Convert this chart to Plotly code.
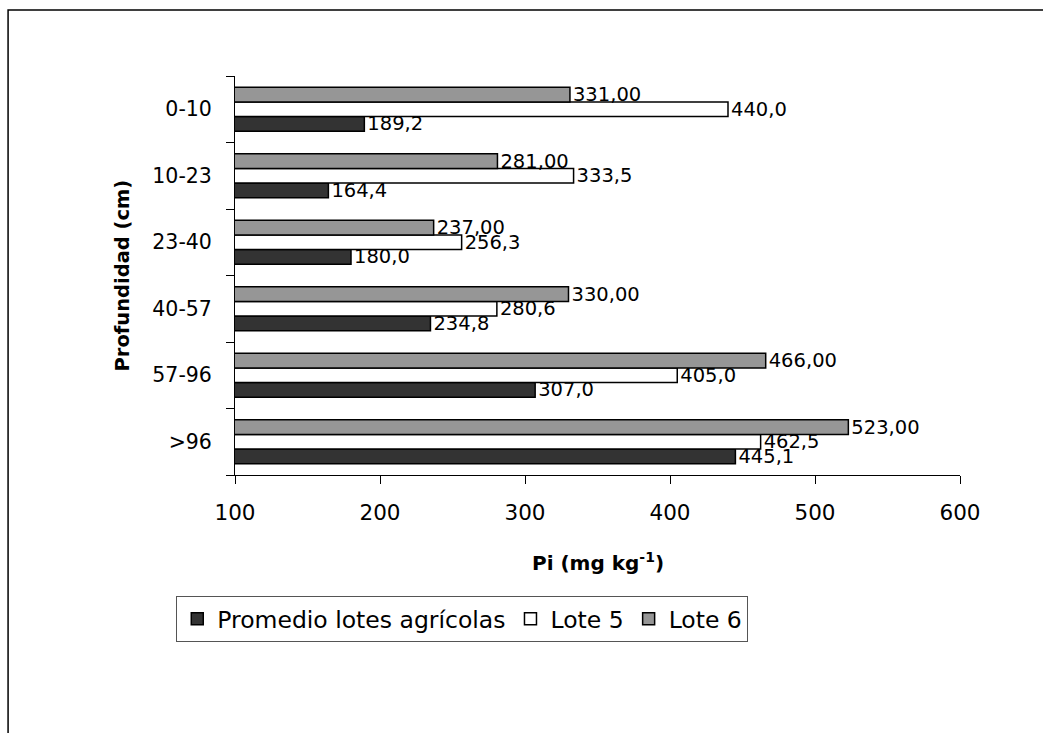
import plotly.graph_objects as go

# Depth intervals (top to bottom as drawn)
profundidad = ["0-10", "10-23", "23-40", "40-57", "57-96", ">96"]

# Inorganic P (mg kg-1) per depth
promedio_lotes = [189.2, 164.4, 180.0, 234.8, 307.0, 445.1]
lote_5 = [440.0, 333.5, 256.3, 280.6, 405.0, 462.5]
lote_6 = [331.00, 281.00, 237.00, 330.00, 466.00, 523.00]

x_ticks = [100, 200, 300, 400, 500, 600]

FONT = "DejaVu Sans, Liberation Sans, Arial, sans-serif"

series = [
    ("Promedio lotes agrícolas", promedio_lotes, "#333333", "%{x:.1f}"),
    ("Lote 5", lote_5, "#ffffff", "%{x:.1f}"),
    ("Lote 6", lote_6, "#969696", "%{x:.2f}"),
]

fig = go.Figure()
for name, vals, color, fmt in series:
    fig.add_trace(go.Bar(
        name=name,
        y=profundidad,
        x=vals,
        orientation="h",
        marker=dict(color=color, line=dict(color="#000000", width=1.5)),
        texttemplate=fmt,
        textposition="outside",
        constraintext="none",
        cliponaxis=False,
        textfont=dict(family=FONT, size=19.5, color="#000000"),
    ))

fig.update_layout(
    width=1043,
    height=733,
    margin=dict(l=235, r=83, t=76, b=258),
    paper_bgcolor="#ffffff",
    plot_bgcolor="#ffffff",
    separators=",.",
    barmode="group",
    bargap=0.34,
    bargroupgap=0,
    font=dict(family=FONT, color="#000000"),
    showlegend=True,
    legend=dict(
        orientation="h",
        x=-0.081,
        y=-0.303,
        xanchor="left",
        yanchor="top",
        bordercolor="#555555",
        borderwidth=1,
        bgcolor="#ffffff",
        font=dict(family=FONT, size=23.5, color="#000000"),
        traceorder="normal",
    ),
    xaxis=dict(
        range=[100, 600],
        tickvals=x_ticks,
        ticktext=[str(v) for v in x_ticks],
        showgrid=False,
        zeroline=False,
        showline=True,
        linecolor="#000000",
        linewidth=1,
        ticks="outside",
        ticklen=8,
        tickcolor="#000000",
        tickfont=dict(family=FONT, size=21.5, color="#000000"),
        ticklabelstandoff=10,
    ),
    yaxis=dict(
        type="category",
        categoryorder="array",
        categoryarray=profundidad[::-1],
        showgrid=False,
        zeroline=False,
        showline=True,
        linecolor="#000000",
        linewidth=1,
        ticks="outside",
        tickson="boundaries",
        ticklen=8,
        tickcolor="#000000",
        tickfont=dict(family=FONT, size=20.5, color="#000000"),
        ticklabelstandoff=18,
    ),
    annotations=[
        dict(
            text="<b>Pi (mg kg<sup>-1</sup>)</b>",
            xref="paper", yref="paper",
            x=0.5, y=-0.218,
            xanchor="center", yanchor="middle",
            showarrow=False,
            font=dict(family=FONT, size=20, color="#000000"),
        ),
        dict(
            text="<b>Profundidad (cm)</b>",
            xref="paper", yref="paper",
            x=-0.1545, y=0.5,
            xanchor="center", yanchor="middle",
            textangle=-90,
            showarrow=False,
            font=dict(family=FONT, size=19.5, color="#000000"),
        ),
    ],
    shapes=[
        dict(
            type="rect",
            xref="paper", yref="paper",
            x0=-0.313, y0=1.1654, x1=1.3, y1=-1.0,
            line=dict(color="#000000", width=1.5),
            fillcolor="rgba(0,0,0,0)",
            layer="below",
        ),
    ],
)

fig.write_html("out.html")
